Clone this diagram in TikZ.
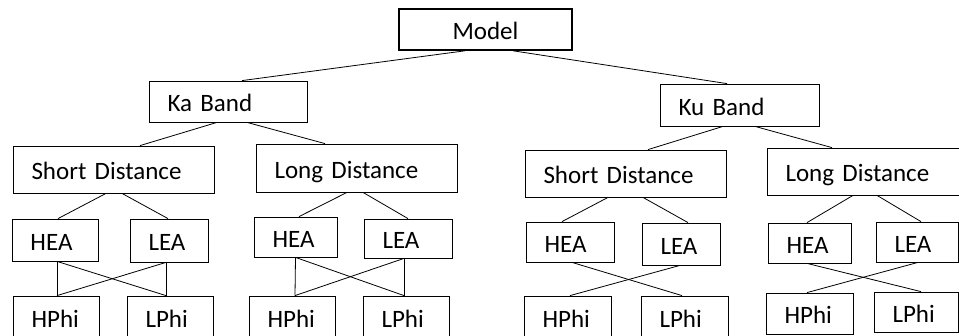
\documentclass[tikz,border=0pt]{standalone}
\usepackage{fontspec}
\setmainfont{Carlito}
\usetikzlibrary{positioning}

\begin{document}
\begin{tikzpicture}[
    x=1pt, y=-1pt,
    box/.style={rectangle, draw, line width=0.8pt, inner xsep=18.5pt, inner ysep=2pt,
        align=left, text height=21pt, text depth=0pt, font=\fontsize{25}{30}\selectfont},
    dims/.style 2 args={minimum width=#1pt, minimum height=#2pt, text width=#1pt-37pt},
    root/.style={box, line width=1.6pt, align=center},
    link/.style={draw, line width=0.8pt}
]
\useasboundingbox (0,0) rectangle (959,336);

% Root
\node[root, dims={173}{41}] (model) at (485.5,29.5) {Model};

% Bands
\node[box, dims={158}{41}] (ka) at (228,101.5) {Ka Band};
\node[box, dims={159}{42}] (ku) at (739.5,105) {Ku Band};

% Distances
\node[box, dims={201}{47}] (kasd) at (113.5,169.5) {Short Distance};
\node[box, dims={201}{48}] (kald) at (356.5,168) {Long Distance};
\node[box, dims={201}{47}] (kusd) at (625.5,173.5) {Short Distance};
\node[box, dims={201}{47}] (kuld) at (867.5,171.5) {Long Distance};

% Ka Band, short distance
\node[box, dims={86}{42}] (kasdhea) at (55,240) {HEA};
\node[box, dims={78}{43}] (kasdlea) at (169,240.5) {LEA};
\node[box, dims={86}{42}] (kasdhphi) at (56,317) {HPhi};
\node[box, dims={86}{42}] (kasdlphi) at (170,317) {LPhi};

% Ka Band, long distance
\node[box, dims={83}{40}] (kaldhea) at (295.5,237) {HEA};
\node[box, dims={88}{39}] (kaldlea) at (408,238.5) {LEA};
\node[box, dims={86}{42}] (kaldhphi) at (292,317) {HPhi};
\node[box, dims={86}{42}] (kaldlphi) at (406,317) {LPhi};

% Ku Band, short distance
\node[box, dims={88}{40}] (kusdhea) at (570,242) {HEA};
\node[box, dims={78}{42}] (kusdlea) at (681,244) {LEA};
\node[box, dims={87}{42}] (kusdhphi) at (567.5,317) {HPhi};
\node[box, dims={87}{42}] (kusdlphi) at (684.5,317) {LPhi};

% Ku Band, long distance
\node[box, dims={83}{40}] (kuldhea) at (809.5,243) {HEA};
\node[box, dims={82}{40}] (kuldlea) at (917,242) {LEA};
\node[box, dims={87}{41}] (kuldhphi) at (809.5,313.5) {HPhi};
\node[box, dims={84}{40}] (kuldlphi) at (916,312) {LPhi};

% Tree links
\draw[link] ([xshift=-20.5pt]model.south) -- ([xshift=14pt]ka.north);
\draw[link] ([xshift=27.5pt]model.south) -- ([xshift=-12.5pt]ku.north);

\draw[link] ([xshift=-11pt]ka.south) -- ([xshift=26.5pt]kasd.north);
\draw[link] ([xshift=19pt]ka.south) -- ([xshift=-31.5pt]kald.north);
\draw[link] ([xshift=-16.5pt]ku.south) -- ([xshift=22.5pt]kusd.north);
\draw[link] ([xshift=15.5pt]ku.south) -- ([xshift=-35.5pt]kuld.north);

\draw[link] ([xshift=-7.5pt]kasd.south) -- ([xshift=3pt]kasdhea.north);
\draw[link] ([xshift=8.5pt]kasd.south) -- ([xshift=-1pt]kasdlea.north);
\draw[link] ([xshift=-9.5pt]kald.south) -- ([xshift=3.5pt]kaldhea.north);
\draw[link] ([xshift=6.5pt]kald.south) -- (kaldlea.north);
\draw[link] ([xshift=-17.5pt]kusd.south) -- ([xshift=-8pt]kusdhea.north);
\draw[link] ([xshift=17.5pt]kusd.south) -- ([xshift=7pt]kusdlea.north);
\draw[link] ([xshift=-14.5pt]kuld.south) -- ([xshift=-2.5pt]kuldhea.north);
\draw[link] ([xshift=9.5pt]kuld.south) -- ([xshift=4pt]kuldlea.north);

% Cross links
\draw[link] ([xshift=2pt]kasdhea.south) -- ([xshift=1pt]kasdhphi.north);
\draw[link] ([xshift=2pt]kasdhea.south) -- ([xshift=-4pt]kasdlphi.north);
\draw[link] ([xshift=-3pt]kasdlea.south) -- ([xshift=1pt]kasdhphi.north);
\draw[link] ([xshift=-3pt]kasdlea.south) -- ([xshift=-4pt]kasdlphi.north);

\draw[link] (kaldhea.south) -- ([xshift=3pt]kaldhphi.north);
\draw[link] (kaldhea.south) -- ([xshift=-2pt]kaldlphi.north);
\draw[link] ([xshift=-4pt]kaldlea.south) -- ([xshift=3pt]kaldhphi.north);
\draw[link] ([xshift=-4pt]kaldlea.south) -- ([xshift=-2pt]kaldlphi.north);

\draw[link] ([xshift=2pt]kusdhea.south) -- ([xshift=-2.5pt]kusdlphi.north);
\draw[link] ([xshift=-1pt]kusdlea.south) -- ([xshift=2.5pt]kusdhphi.north);

\draw[link] ([xshift=-2.5pt]kuldhea.south) -- ([xshift=5pt]kuldlphi.north);
\draw[link] ([xshift=1pt]kuldlea.south) -- ([xshift=-2.5pt]kuldhphi.north);

\end{tikzpicture}
\end{document}
